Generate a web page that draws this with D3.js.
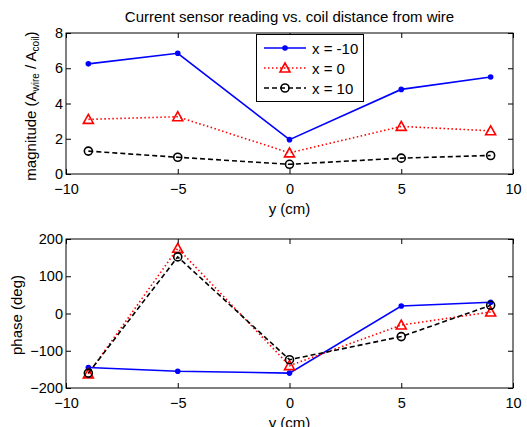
<!DOCTYPE html>
<html>
<head>
<meta charset="utf-8">
<script src="https://cdn.jsdelivr.net/npm/d3@7"></script>
<style>
body{margin:0;background:#fff;}
svg text{font-family:"Liberation Sans",Arial,sans-serif;fill:#000;}
.axis path,.axis line{stroke:#000;}
.axis text{font-size:14.5px;font-family:"Liberation Sans",Arial,sans-serif;}
</style>
</head>
<body>
<script>
var yPos = [-9, -5, 0, 5, 9]; //coil y positions (cm)
var seriesNames = ["x = -10", "x = 0", "x = 10"];
var magBlue = [6.25, 6.85, 1.95, 4.8, 5.5];
var magRed = [3.1, 3.25, 1.2, 2.7, 2.45];
var magBlack = [1.3, 0.95, 0.55, 0.9, 1.05];
var phaseBlue = [-145, -155, -160, 20, 30];
var phaseRed = [-162, 175, -140, -31, 4];
var phaseBlack = [-160, 152, -124, -62, 22];
var xTicks = [-10, -5, 0, 5, 10];
var magTicks = [0, 2, 4, 6, 8];
var phaseTicks = [-200, -100, 0, 100, 200];

var width = 527, height = 427;
var svg = d3.select("body").append("svg")
    .attr("width", width)
    .attr("height", height);

var styles = [
    {color: "#0000ff", dash: null, marker: "dot"},
    {color: "#ff0000", dash: "1.5,2.5", marker: "tri"},
    {color: "#000000", dash: "5,3", marker: "circ"}
];

function drawMarker(g, type, color, cx, cy){
    if (type == "dot"){
        g.append("circle").attr("cx", cx).attr("cy", cy).attr("r", 2.8)
            .attr("fill", color).attr("stroke", "none");
    } else if (type == "tri"){
        var s = 5;
        g.append("path")
            .attr("d", "M" + cx + "," + (cy - s) + "L" + (cx + s) + "," + (cy + s * 0.8) + "L" + (cx - s) + "," + (cy + s * 0.8) + "Z")
            .attr("fill", "none").attr("stroke", color).attr("stroke-width", 1.6);
    } else {
        g.append("circle").attr("cx", cx).attr("cy", cy).attr("r", 4)
            .attr("fill", "none").attr("stroke", color).attr("stroke-width", 1.6);
    }
}

function makePanel(top, bottom, domain, yTicks, data){
    var x = d3.scaleLinear().domain([-10, 10]).range([66, 513]);
    var y = d3.scaleLinear().domain(domain).range([bottom, top]);
    var g = svg.append("g");

    g.append("rect").attr("x", 66).attr("y", top)
        .attr("width", 447).attr("height", bottom - top)
        .attr("fill", "#fff").attr("stroke", "#000").attr("stroke-width", 1);

    //inside ticks on all four sides
    g.append("g").attr("class", "axis").attr("transform", "translate(0," + bottom + ")")
        .call(d3.axisBottom(x).tickValues(xTicks).tickSizeInner(-5).tickSizeOuter(0).tickPadding(10))
        .call(function(a){ a.select(".domain").remove(); });
    g.append("g").attr("class", "axis").attr("transform", "translate(0," + top + ")")
        .call(d3.axisTop(x).tickValues(xTicks).tickSizeInner(-5).tickSizeOuter(0).tickFormat(""))
        .call(function(a){ a.select(".domain").remove(); });
    g.append("g").attr("class", "axis").attr("transform", "translate(66,0)")
        .call(d3.axisLeft(y).tickValues(yTicks).tickSizeInner(-5).tickSizeOuter(0).tickPadding(3))
        .call(function(a){ a.select(".domain").remove(); });
    g.append("g").attr("class", "axis").attr("transform", "translate(513,0)")
        .call(d3.axisRight(y).tickValues(yTicks).tickSizeInner(-5).tickSizeOuter(0).tickFormat(""))
        .call(function(a){ a.select(".domain").remove(); });

    var line = d3.line()
        .x(function(d, i){ return x(yPos[i]); })
        .y(function(d){ return y(d); });

    data.forEach(function(vals, k){
        var st = styles[k];
        g.append("path").datum(vals)
            .attr("d", line)
            .attr("fill", "none")
            .attr("stroke", st.color)
            .attr("stroke-width", 1.6)
            .attr("stroke-dasharray", st.dash);
        vals.forEach(function(v, i){
            drawMarker(g, st.marker, st.color, x(yPos[i]), y(v));
        });
    });

    g.append("text").attr("x", 289.5).attr("y", bottom + 40)
        .attr("text-anchor", "middle").attr("font-size", 15).text("y (cm)");
    return g;
}

makePanel(33, 174, [0, 8], magTicks, [magBlue, magRed, magBlack]);
makePanel(239, 388, [-200, 200], phaseTicks, [phaseBlue, phaseRed, phaseBlack]);

//title
svg.append("text").attr("x", 289.5).attr("y", 22)
    .attr("text-anchor", "middle").attr("font-size", 15)
    .text("Current sensor reading vs. coil distance from wire");

//y labels
var magLabel = svg.append("text")
    .attr("transform", "translate(36,106) rotate(-90)")
    .attr("text-anchor", "middle").attr("font-size", 15);
magLabel.append("tspan").text("magnitude (A");
magLabel.append("tspan").attr("font-size", 10).attr("dy", 3).text("wire");
magLabel.append("tspan").attr("dy", -3).text(" / A");
magLabel.append("tspan").attr("font-size", 10).attr("dy", 3).text("coil");
magLabel.append("tspan").attr("dy", -3).text(")");

svg.append("text")
    .attr("transform", "translate(22,315) rotate(-90)")
    .attr("text-anchor", "middle").attr("font-size", 15)
    .text("phase (deg)");

//legend
var legend = svg.append("g");
legend.append("rect").attr("x", 256.5).attr("y", 34.5)
    .attr("width", 107).attr("height", 67)
    .attr("fill", "#fff").attr("stroke", "#000").attr("stroke-width", 1);
var legendY = [48, 68, 88];
seriesNames.forEach(function(name, k){
    var st = styles[k];
    legend.append("line")
        .attr("x1", 264).attr("x2", 306)
        .attr("y1", legendY[k]).attr("y2", legendY[k])
        .attr("stroke", st.color).attr("stroke-width", 1.6)
        .attr("stroke-dasharray", st.dash);
    drawMarker(legend, st.marker, st.color, 285, legendY[k]);
    legend.append("text").attr("x", 312).attr("y", legendY[k] + 5.5)
        .attr("font-size", 15).text(name);
});
</script>
</body>
</html>
